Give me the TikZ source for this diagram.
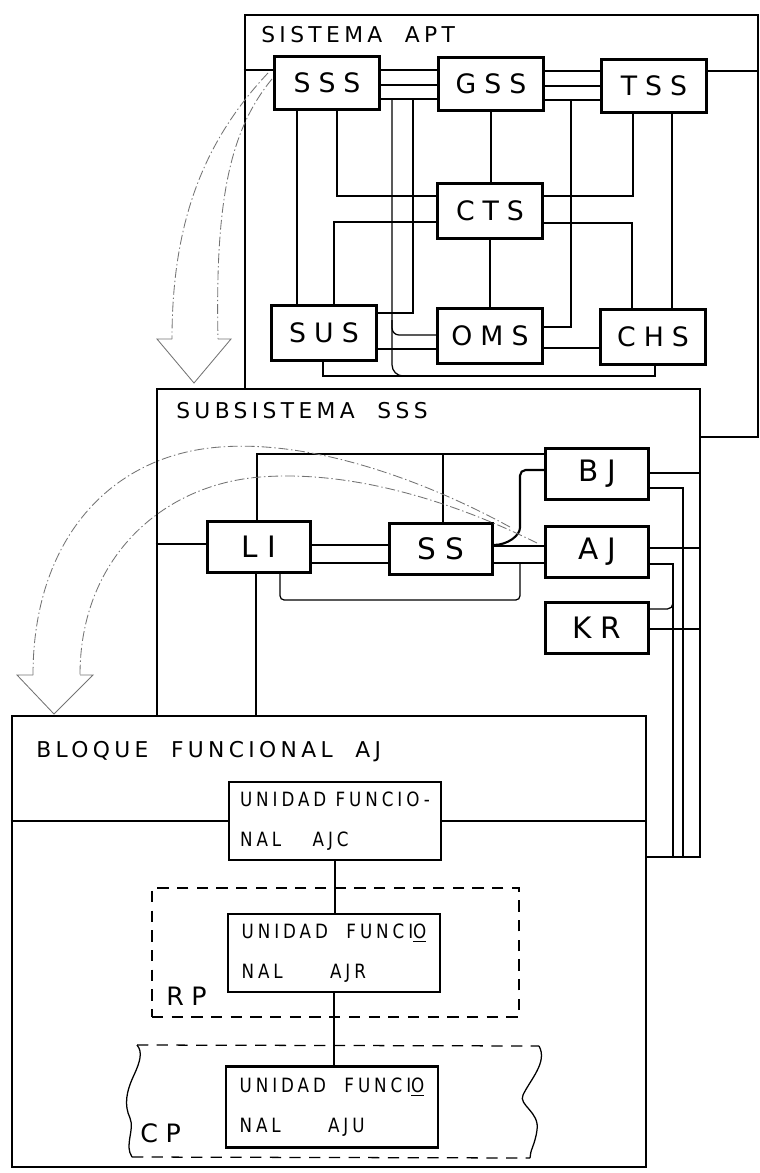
\documentclass[tikz,border=0pt]{standalone}
\usepackage{fontspec}
\newfontfamily\headfont[LetterSpace=20]{DejaVu Sans}
\newfontfamily\boxfont[LetterSpace=30]{DejaVu Sans}
\newfontfamily\unitfont[LetterSpace=20,FakeStretch=0.85]{DejaVu Sans}

\begin{document}
\begin{tikzpicture}[x=0.025cm, y=-0.025cm,
    frame/.style={draw, fill=white, line width=1.8pt, inner sep=0pt},
    blk/.style={draw, fill=white, line width=1.7pt, inner sep=0pt,
        minimum width=2.625cm, minimum height=1.325cm,
        font=\boxfont\fontsize{19}{19}\selectfont},
    subblk/.style={blk, minimum width=2.575cm, minimum height=1.275cm,
        font=\boxfont\fontsize{21}{21}\selectfont},
    unit/.style={draw, fill=white, line width=1.7pt, inner sep=0pt,
        minimum width=5.3cm, minimum height=1.95cm, align=left,
        font=\unitfont\fontsize{14}{28}\selectfont},
    title/.style={anchor=base west, inner sep=0pt,
        font=\headfont\fontsize{15.5}{15.5}\selectfont},
    tag/.style={anchor=base west, inner sep=0pt,
        font=\boxfont\fontsize{18}{18}\selectfont},
    wire/.style={line width=0.9pt},
    bus/.style={line width=1.5pt},
    brk/.style={line width=0.9pt, dash pattern=on 8pt off 6pt},
    flow/.style={black!55, line width=0.6pt, dash pattern=on 7pt off 2pt on 1pt off 2pt},
    head/.style={black!55, line width=0.6pt, line join=miter}]

    \useasboundingbox (0,0) rectangle (759,1173);

    % Sistema APT
    \node[frame, minimum width=12.825cm, minimum height=10.55cm] (apt) at (501.5,226) {};
    \node[title] (aptname) at (261,42) {SISTEMA\ \ APT};
    \node[blk] (sss) at (327,83) {SSS};
    \node[blk] (gss) at (491,84) {GSS};
    \node[blk] (tss) at (654,86) {TSS};
    \node[blk, minimum height=1.375cm] (cts) at (490,211) {CTS};
    \node[blk, minimum height=1.375cm] (sus) at (324,333) {SUS};
    \node[blk, minimum height=1.375cm] (oms) at (490,336) {OMS};
    \node[blk, minimum height=1.375cm] (chs) at (653,337) {CHS};

    \draw[bus] (apt.west |- 0,70) -- (sss.west |- 0,70);
    \draw[bus] (sss.east |- 0,70) -- (gss.west |- 0,70);
    \draw[wire] (sss.east |- 0,85) -- (gss.west |- 0,85);
    \draw[wire] (sss.east |- 0,99) -- (gss.west |- 0,99);
    \draw[bus] (gss.east |- 0,71) -- (tss.west |- 0,71);
    \draw[wire] (gss.east |- 0,86) -- (tss.west |- 0,86);
    \draw[wire] (gss.east |- 0,100) -- (tss.west |- 0,100);
    \draw[bus] (tss.east |- 0,71) -- (apt.east |- 0,71);

    \draw[wire] (297,0 |- sss.south) -- (297,0 |- sus.north);
    \draw[wire] (337,0 |- sss.south) |- (cts.west |- 0,196);
    \draw[wire] (cts.west |- 0,222) -| (334,0 |- sus.north);
    \draw[wire] (gss.south) -- (gss.south |- cts.north);
    \draw[wire] (cts.south) -- (oms.north);
    \draw[wire] (633,0 |- tss.south) |- (cts.east |- 0,196);
    \draw[wire] (cts.east |- 0,223) -| (632,0 |- chs.north);
    \draw[wire] (672,0 |- tss.south) -- (672,0 |- chs.north);
    \draw[wire] (413,99) -- (413,313) -- (sus.east |- 0,313);
    \draw[wire] (571,100) -- (571,327) -- (oms.east |- 0,327);
    \draw[wire, rounded corners=8] (392,99) -- (392,376) -- (425,376);
    \draw[wire, rounded corners=5] (392,320) -- (392,335) -- (oms.west |- 0,335);
    \draw[wire] (323,0 |- sus.south) |- (655,376) -- (655,0 |- chs.south);
    \draw[wire] (sus.east |- 0,349) -- (oms.west |- 0,349);
    \draw[wire] (oms.east |- 0,348) -- (chs.west |- 0,348);

    % APT -> SSS
    \draw[flow] (268,73) .. controls (205,140) and (172,220) .. (172,339);
    \draw[flow] (272,79) .. controls (230,130) and (215,200) .. (218,339);
    \draw[head] (172,339) -- (157,339) -- (194,383) -- (231,339) -- (218,339);

    % Subsistema SSS
    \node[frame, minimum width=13.575cm, minimum height=11.7cm] (subsys) at (428.5,623) {};
    \node[title] (subsysname) at (176,418) {SUBSISTEMA\ \ SSS};
    \node[subblk] (li) at (259,547) {LI};
    \node[subblk] (ss) at (441,549) {SS};
    \node[subblk] (bj) at (597,474) {BJ};
    \node[subblk] (aj) at (597,552) {AJ};
    \node[subblk] (kr) at (597,628) {KR};

    \draw[bus] (subsys.west |- 0,544) -- (li.west |- 0,544);
    \draw[bus] (li.east |- 0,545) -- (ss.west |- 0,545);
    \draw[wire] (li.east |- 0,563) -- (ss.west |- 0,563);
    \draw[wire] (257,0 |- li.north) |- (bj.west |- 0,454);
    \draw[wire] (443,0 |- ss.north) -- (443,454);
    \draw[bus] (ss.east |- 0,546) -- (aj.west |- 0,546);
    \draw[bus, rounded corners=4] (ss.east |- 0,545) to[out=0,in=-90] (520,522) -- (520,470) -- (bj.west |- 0,470);
    \draw[wire] (ss.east |- 0,563) -- (aj.west |- 0,563);
    \draw[wire, rounded corners=3] (280,0 |- li.south) |- (520,600) -- (520,563);
    \draw[bus] (bj.east |- 0,473) -- (subsys.east |- 0,473);
    \draw[wire] (bj.east |- 0,488) -| (683,0 |- subsys.south);
    \draw[bus] (aj.east |- 0,548) -- (subsys.east |- 0,548);
    \draw[wire] (aj.east |- 0,564) -| (673,0 |- subsys.south);
    \draw[wire, rounded corners=4] (673,595) -- (673,609) -- (kr.east |- 0,609);
    \draw[bus] (kr.east |- 0,629) -- (subsys.east |- 0,629);

    % Bloque funcional AJ
    \node[frame, minimum width=15.85cm, minimum height=11.275cm] (blockaj) at (329,941.5) {};
    \node[title] (blockname) at (36,757) {BLOQUE\ \ FUNCIONAL\ \ AJ};
    \draw[wire] (256,0 |- li.south) -- (256,0 |- blockaj.north);

    \node[draw, brk, minimum width=9.175cm, minimum height=3.225cm] (rp) at (335.5,952.5) {};
    \node[tag] (rpname) at (166,1005) {RP};

    \coordinate (cpnw) at (137,1045);
    \coordinate (cpne) at (539,1046);
    \coordinate (cpsw) at (132,1157);
    \coordinate (cpse) at (530,1158);
    \draw[brk] (cpnw) -- (cpne);
    \draw[brk] (cpsw) -- (cpse);
    \draw[wire] (cpnw) .. controls (143,1052) and (140,1062) .. (134,1075)
        .. controls (126,1092) and (124,1105) .. (130,1118)
        .. controls (135,1130) and (124,1145) .. (cpsw);
    \draw[wire] (cpne) .. controls (548,1062) and (530,1080) .. (523,1095)
        .. controls (518,1105) and (540,1112) .. (537,1130)
        .. controls (535,1145) and (530,1150) .. (cpse);
    \node[tag] (cpname) at (140,1142) {CP};

    \node[unit] (ajc) at (335,821) {UNIDAD FUNCIO-\\NAL\hspace{1.6em}AJC};
    \node[unit] (ajr) at (334,953) {UNIDAD\ \ FUNCI\underline{O}\\NAL\hspace{2.4em}AJR};
    \node[unit, minimum height=2.025cm] (aju) at (332,1107) {UNIDAD\ \ FUNCI\underline{O}\\NAL\hspace{2.4em}AJU};

    \draw[bus] (blockaj.west |- ajc.west) -- (ajc.west);
    \draw[bus] (ajc.east) -- (blockaj.east |- ajc.east);
    \draw[bus] (ajc.south) -- (ajc.south |- ajr.north);
    \draw[bus] (ajr.south) -- (ajr.south |- aju.north);

    % SSS -> AJ
    \draw[flow] (510,527) .. controls (420,478) and (310,440) .. (220,447)
        .. controls (110,455) and (33,540) .. (33,675);
    \draw[flow] (537,543) .. controls (450,500) and (350,470) .. (260,477)
        .. controls (160,485) and (80,560) .. (80,675);
    \draw[head] (33,675) -- (17,675) -- (54,714) -- (93,675) -- (80,675);
\end{tikzpicture}
\end{document}
